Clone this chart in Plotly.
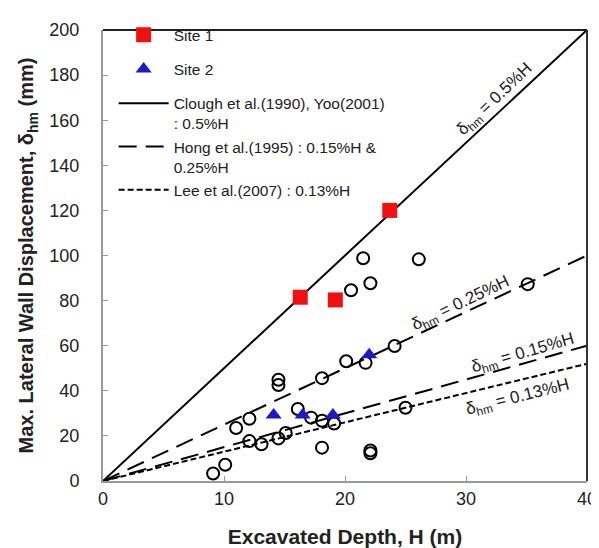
import plotly.graph_objects as go

# ---- data ----
site1_H = [16.3, 19.2, 23.7]
site1_d = [81.5, 80.3, 120.0]

site2_H = [14.1, 16.5, 19.0, 22.0]
site2_d = [29.3, 29.3, 29.3, 56.0]

other_H = [9.1, 10.1, 11.0, 12.1, 12.1, 13.1, 14.5, 15.1, 14.5, 14.5, 16.1, 17.2,
           18.1, 18.1, 18.1, 19.1, 20.1, 20.5, 21.5, 22.1, 21.7, 24.1, 25.0, 26.1,
           35.1, 22.1, 22.1]
other_d = [3.3, 7.2, 23.5, 27.6, 17.7, 16.3, 18.9, 21.3, 44.9, 42.6, 31.9, 28.1,
           26.7, 14.8, 45.6, 25.5, 53.1, 84.6, 98.8, 87.7, 52.4, 59.9, 32.5, 98.3,
           87.3, 13.5, 12.3]

line_H = [0, 40]
clough_d = [0, 200]     # 0.5%H
hong25_d = [0, 100]     # 0.25%H
hong15_d = [0, 60]      # 0.15%H
lee_d = [0, 52]         # 0.13%H

FONT = "Arial, Liberation Sans, sans-serif"

fig = go.Figure()

fig.add_trace(go.Scatter(x=line_H, y=clough_d, mode="lines",
                         line=dict(color="black", width=2),
                         name="Clough et al.(1990), Yoo(2001)<br>: 0.5%H",
                         legendgroup="g3", legendrank=3))
fig.add_trace(go.Scatter(x=line_H, y=hong25_d, mode="lines",
                         line=dict(color="black", width=2, dash="18px,9px"),
                         name="Hong et al.(1995) : 0.15%H &<br>0.25%H",
                         legendgroup="g3", legendrank=4))
fig.add_trace(go.Scatter(x=line_H, y=hong15_d, mode="lines",
                         line=dict(color="black", width=2, dash="18px,9px"),
                         showlegend=False, legendgroup="g3"))
fig.add_trace(go.Scatter(x=line_H, y=lee_d, mode="lines",
                         line=dict(color="black", width=2, dash="6px,3px"),
                         name="Lee et al.(2007) : 0.13%H",
                         legendgroup="g3", legendrank=5))

fig.add_trace(go.Scatter(x=other_H, y=other_d, mode="markers",
                         marker=dict(symbol="circle-open", size=12,
                                     color="black", line=dict(width=2)),
                         showlegend=False))

fig.add_trace(go.Scatter(x=site1_H, y=site1_d, mode="markers", name="Site 1",
                         marker=dict(symbol="square", size=15, color="#ee1111"),
                         legendgroup="g1", legendrank=1))
fig.add_trace(go.Scatter(x=site2_H, y=site2_d, mode="markers", name="Site 2",
                         marker=dict(symbol="triangle-up", size=14, color="#1a1acc"),
                         legendgroup="g2", legendrank=2))

ann_font = dict(family=FONT, size=17, color="#222")
labels = [
    (32.4, 169.0, "δ<sub>hm</sub> = 0.5%H", -43.7),
    (29.6, 78.5, "δ<sub>hm</sub> = 0.25%H", -25.6),
    (34.7, 56.5, "δ<sub>hm</sub> = 0.15%H", -16.0),
    (34.3, 36.8, "δ<sub>hm</sub> = 0.13%H", -14.0),
]
for x, y, t, a in labels:
    fig.add_annotation(x=x, y=y, text=t, textangle=a, showarrow=False,
                       font=ann_font, xref="x", yref="y")

# top and right border (dark)
fig.add_shape(type="line", xref="paper", yref="paper", x0=0, x1=1, y0=1, y1=1,
              line=dict(color="#222", width=2))
fig.add_shape(type="line", xref="paper", yref="paper", x0=1, x1=1, y0=0, y1=1,
              line=dict(color="#333", width=2))

# the page body adds an 8px offset, so the figure is 8px smaller and shifted
fig.update_layout(
    width=591, height=540,
    margin=dict(l=95, r=12, t=10, b=67),
    paper_bgcolor="white", plot_bgcolor="white",
    font=dict(family=FONT, color="#222"),
    legend=dict(x=0.022, y=1.026, xanchor="left", yanchor="top",
                bgcolor="rgba(0,0,0,0)", font=dict(family=FONT, size=15.5, color="#222"),
                tracegroupgap=11, valign="top", traceorder="grouped", itemwidth=50),
    xaxis=dict(range=[0, 40], tickvals=[0, 10, 20, 30, 40], showgrid=False,
               zeroline=False, showline=True, linecolor="#999", linewidth=2,
               ticks="inside", ticklen=5, tickcolor="#999", automargin=False,
               tickfont=dict(family=FONT, size=18, color="#222"),
               title=dict(text="<b>Excavated Depth, H (m)</b>",
                          font=dict(family=FONT, size=21, color="#222"), standoff=22)),
    yaxis=dict(range=[0, 200], tickvals=list(range(0, 201, 20)), showgrid=False,
               zeroline=False, showline=True, linecolor="#999", linewidth=2,
               ticks="inside", ticklen=5, tickcolor="#999", automargin=False,
               tickfont=dict(family=FONT, size=18, color="#222"),
               ticklabelstandoff=18,
               title=dict(text="<b>Max. Lateral Wall Displacement, δ<sub>hm</sub> (mm)</b>",
                          font=dict(family=FONT, size=20, color="#222"), standoff=10)),
)

fig.write_html("out.html")
